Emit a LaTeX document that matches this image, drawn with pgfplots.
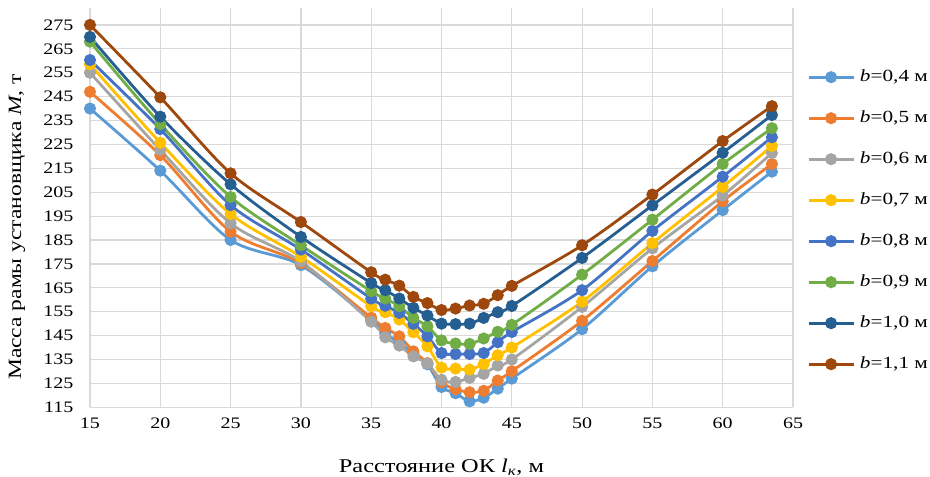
\documentclass[border=0pt]{standalone}
\usepackage{fontspec}
\setmainfont{Liberation Serif}[FakeStretch=1.25]
\usepackage{pgfplots}
\usepackage{pgfplotstable}
\pgfplotsset{compat=1.18}

\definecolor{c04}{RGB}{91,155,213}
\definecolor{c05}{RGB}{237,125,49}
\definecolor{c06}{RGB}{165,165,165}
\definecolor{c07}{RGB}{255,192,0}
\definecolor{c08}{RGB}{68,114,196}
\definecolor{c09}{RGB}{112,173,71}
\definecolor{c10}{RGB}{37,94,145}
\definecolor{c11}{RGB}{158,72,14}

\pgfplotstableread{
x     b04   b05   b06   b07   b08   b09   b10   b11
15    240.0 247.0 255.0 258.5 260.3 268.0 270.0 275.0
20    214.0 220.5 222.7 225.7 231.4 233.5 236.6 244.7
25    185.0 188.5 192.0 195.9 199.6 203.0 208.3 212.9
30    174.5 175.3 176.0 178.0 181.0 182.8 186.3 192.5
35    151.5 152.5 150.8 157.3 160.5 163.6 167.0 171.5
36    146.0 148.2 144.3 154.8 157.5 160.5 164.0 168.4
37    142.0 144.7 140.8 151.7 154.5 157.3 160.5 165.9
38    137.5 138.4 136.3 146.4 149.9 152.4 156.6 161.2
39    133.0 133.5 133.3 140.5 144.7 148.9 153.4 158.6
40    123.5 125.5 126.5 131.6 137.7 143.0 150.0 155.7
41    120.9 122.6 125.6 131.2 137.3 141.7 149.8 156.3
42    117.5 121.3 127.3 130.8 137.3 141.5 150.0 157.6
43    119.0 121.9 129.0 133.1 137.7 143.8 152.4 158.3
44    122.8 126.2 132.5 136.8 142.2 146.6 154.8 161.9
45    127.0 130.1 135.0 140.0 146.5 149.5 157.4 165.8
50    147.7 151.2 157.0 159.2 164.0 170.5 177.5 182.8
55    174.0 176.2 181.5 183.7 188.8 193.5 199.5 204.0
60    197.5 201.2 203.6 207.2 211.5 216.8 221.5 226.4
63.5  213.6 216.8 221.4 224.3 228.0 231.8 237.3 241.0
}\masstable

\begin{document}
\begin{tikzpicture}[x=1pt,y=1pt]
\useasboundingbox (0,0) rectangle (930,477);
\begin{axis}[
    at={(90pt,69.7pt)}, anchor=south west,
    scale only axis, width=703pt, height=399.1pt,
    xmin=15, xmax=65, ymin=115, ymax=282,
    xtick={15,20,...,65}, ytick={115,125,...,275},
    grid=major,
    major grid style={draw=gray!30, line width=1.2pt},
    axis line style={draw=none},
    major tick length=0pt,
    /pgf/number format/assume math mode=true,
    tick label style={font=\fontsize{16}{18}\selectfont},
    x tick label style={yshift=-7pt},
    y tick label style={xshift=-13pt},
    xlabel={Расстояние ОК \textit{l}\textsubscript{\textit{к}}, м},
    ylabel={Масса рамы установщика \textit{M}, т},
    xlabel style={at={(axis description cs:0.5,-0.1496)}, anchor=center, font=\fontsize{19.5}{22}\selectfont},
    ylabel style={at={(axis description cs:-0.1038,0.4518)}, anchor=center, font=\fontsize{18.8}{22}\selectfont},
    every axis plot/.append style={smooth, line width=2.8pt, mark=*, mark size=4.6pt},
    legend image code/.code={\draw[mark repeat=2,mark phase=2,#1] plot coordinates {(0pt,0pt) (22.5pt,0pt) (45pt,0pt)};},
    legend style={at={(axis description cs:1.0199,0.8477)}, anchor=north west,
        draw=none, fill=none, inner sep=0pt, row sep=25pt,
        font=\fontsize{17}{19}\selectfont,
        nodes={inner sep=0pt, text height=12pt, text depth=4pt},
        /tikz/every odd column/.append style={column sep=5pt}},
    legend cell align=left,
]
\addplot[color=c04, mark options={fill=c04}] table[x=x, y=b04] {\masstable};
\addlegendentry{\textit{b}=0,4 м}
\addplot[color=c05, mark options={fill=c05}] table[x=x, y=b05] {\masstable};
\addlegendentry{\textit{b}=0,5 м}
\addplot[color=c06, mark options={fill=c06}] table[x=x, y=b06] {\masstable};
\addlegendentry{\textit{b}=0,6 м}
\addplot[color=c07, mark options={fill=c07}] table[x=x, y=b07] {\masstable};
\addlegendentry{\textit{b}=0,7 м}
\addplot[color=c08, mark options={fill=c08}] table[x=x, y=b08] {\masstable};
\addlegendentry{\textit{b}=0,8 м}
\addplot[color=c09, mark options={fill=c09}] table[x=x, y=b09] {\masstable};
\addlegendentry{\textit{b}=0,9 м}
\addplot[color=c10, mark options={fill=c10}] table[x=x, y=b10] {\masstable};
\addlegendentry{\textit{b}=1,0 м}
\addplot[color=c11, mark options={fill=c11}] table[x=x, y=b11] {\masstable};
\addlegendentry{\textit{b}=1,1 м}
\end{axis}
\end{tikzpicture}
\end{document}
